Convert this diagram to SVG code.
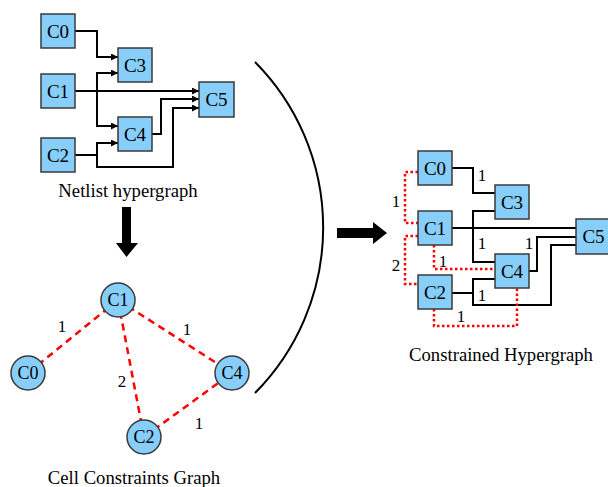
<svg xmlns="http://www.w3.org/2000/svg" width="608" height="487" viewBox="0 0 608 487">
<defs>
<style>
.box{fill:#87cefa;stroke:#3a3a3a;stroke-width:1.5}
.wire{fill:none;stroke:#000;stroke-width:2}
.awire{fill:none;stroke:#000;stroke-width:2;marker-end:url(#ah)}
.dot{fill:none;stroke:#ff0000;stroke-width:2.5;stroke-dasharray:2.5,2.5}
.dash{fill:none;stroke:#ff0000;stroke-width:2.5;stroke-dasharray:7,5}
</style>
<marker id="ah" viewBox="0 0 10 10" refX="10" refY="5" markerWidth="5" markerHeight="3.5" markerUnits="strokeWidth" orient="auto">
<path d="M0,0 L10,5 L0,10 z" fill="#000"/>
</marker>
</defs>

<!-- Netlist hypergraph connectors -->
<g id="netlist-connectors">
<path class="awire" d="M75,31 H97 V57 H118"/>
<path class="awire" d="M75,91 H199"/>
<path class="awire" d="M97,91 V73 H118"/>
<path class="awire" d="M97,91 V126 H118"/>
<path class="awire" d="M152,134 H161 V99 H199"/>
<path class="awire" d="M75,155 H97 V143 H118"/>
<path class="awire" d="M97,155 V167 H173 V108 H199"/>
</g>

<g id="n-C0"><rect class="box" x="41" y="14" width="34" height="34"/><text font-family="Liberation Serif" font-size="19" text-anchor="middle" x="58" y="38">C0</text></g>
<g id="n-C1"><rect class="box" x="41" y="74" width="34" height="34"/><text font-family="Liberation Serif" font-size="19" text-anchor="middle" x="58" y="98">C1</text></g>
<g id="n-C2"><rect class="box" x="41" y="138" width="34" height="34"/><text font-family="Liberation Serif" font-size="19" text-anchor="middle" x="58" y="162">C2</text></g>
<g id="n-C3"><rect class="box" x="118" y="48" width="34" height="34"/><text font-family="Liberation Serif" font-size="19" text-anchor="middle" x="135" y="72">C3</text></g>
<g id="n-C4"><rect class="box" x="118" y="117" width="34" height="34"/><text font-family="Liberation Serif" font-size="19" text-anchor="middle" x="135" y="141">C4</text></g>
<g id="n-C5"><rect class="box" x="199" y="82" width="35" height="35"/><text font-family="Liberation Serif" font-size="19" text-anchor="middle" x="216.5" y="106">C5</text></g>
<text font-family="Liberation Serif" font-size="18.7" text-anchor="middle" x="128" y="197">Netlist hypergraph</text>

<!-- big down arrow -->
<g id="down-arrow">
<path d="M122,207 H131 V243 H138 L126.5,257 L116,243 H122 z" fill="#000"/>
</g>

<!-- Cell constraints graph -->
<g id="ccg-connectors">
<line class="dash" x1="118" y1="300" x2="28" y2="373"/>
<line class="dash" x1="118" y1="300" x2="232" y2="373"/>
<line class="dash" x1="118" y1="300" x2="144" y2="437"/>
<line class="dash" x1="144" y1="437" x2="232" y2="373"/>
<text font-family="Liberation Serif" font-size="17" text-anchor="middle" x="62" y="332">1</text>
<text font-family="Liberation Serif" font-size="17" text-anchor="middle" x="187" y="335">1</text>
<text font-family="Liberation Serif" font-size="17" text-anchor="middle" x="122" y="387">2</text>
<text font-family="Liberation Serif" font-size="17" text-anchor="middle" x="199" y="429">1</text>
</g>
<g id="g-C1"><circle class="box" cx="118" cy="300" r="17"/><text font-family="Liberation Serif" font-size="18" text-anchor="middle" x="118" y="306">C1</text></g>
<g id="g-C0"><circle class="box" cx="28" cy="373" r="17"/><text font-family="Liberation Serif" font-size="18" text-anchor="middle" x="28" y="379">C0</text></g>
<g id="g-C4"><circle class="box" cx="232" cy="373" r="17"/><text font-family="Liberation Serif" font-size="18" text-anchor="middle" x="232" y="379">C4</text></g>
<g id="g-C2"><circle class="box" cx="144" cy="437" r="17"/><text font-family="Liberation Serif" font-size="18" text-anchor="middle" x="144" y="443">C2</text></g>
<text font-family="Liberation Serif" font-size="18.7" text-anchor="middle" x="134" y="484">Cell Constraints Graph</text>

<!-- arc -->
<path d="M255,62 A235,235 0 0 1 255,393" fill="none" stroke="#000" stroke-width="2"/>

<!-- right arrow -->
<g id="right-arrow">
<path d="M337,228 H373 V222 L387,233 L373,244 V238 H337 z" fill="#000"/>
</g>

<!-- Constrained hypergraph connectors -->
<g id="chg-connectors">
<path class="wire" d="M452,168 H473 V193 H495"/>
<path class="wire" d="M495,211 H473 V262 H495"/>
<path class="wire" d="M452,228 H576"/>
<path class="wire" d="M529,271 H537 V237 H576"/>
<path class="wire" d="M452,293 H473 V279 H495"/>
<path class="wire" d="M473,293 V305 H551 V245 H576"/>
<path class="dot" d="M418,172 H405 V223 H418"/>
<path class="dot" d="M418,236 H405 V284 H418"/>
<path class="dot" d="M434,245 V269 H495"/>
<path class="dot" d="M434,309 V326 H517 V288"/>
<text font-family="Liberation Serif" font-size="17" text-anchor="middle" x="482" y="181">1</text>
<text font-family="Liberation Serif" font-size="17" text-anchor="middle" x="482" y="249">1</text>
<text font-family="Liberation Serif" font-size="17" text-anchor="middle" x="529" y="249">1</text>
<text font-family="Liberation Serif" font-size="17" text-anchor="middle" x="482" y="301">1</text>
<text font-family="Liberation Serif" font-size="17" text-anchor="middle" x="396" y="207">1</text>
<text font-family="Liberation Serif" font-size="17" text-anchor="middle" x="396" y="271">2</text>
<text font-family="Liberation Serif" font-size="17" text-anchor="middle" x="443" y="267">1</text>
<text font-family="Liberation Serif" font-size="17" text-anchor="middle" x="461" y="322">1</text>
</g>
<g id="r-C0"><rect class="box" x="418" y="151" width="34" height="34"/><text font-family="Liberation Serif" font-size="19" text-anchor="middle" x="435" y="175">C0</text></g>
<g id="r-C1"><rect class="box" x="418" y="211" width="34" height="34"/><text font-family="Liberation Serif" font-size="19" text-anchor="middle" x="435" y="235">C1</text></g>
<g id="r-C2"><rect class="box" x="418" y="275" width="34" height="34"/><text font-family="Liberation Serif" font-size="19" text-anchor="middle" x="435" y="299">C2</text></g>
<g id="r-C3"><rect class="box" x="495" y="185" width="34" height="34"/><text font-family="Liberation Serif" font-size="19" text-anchor="middle" x="512" y="209">C3</text></g>
<g id="r-C4"><rect class="box" x="495" y="254" width="34" height="34"/><text font-family="Liberation Serif" font-size="19" text-anchor="middle" x="512" y="278">C4</text></g>
<g id="r-C5"><rect class="box" x="576" y="219" width="35" height="35"/><text font-family="Liberation Serif" font-size="19" text-anchor="middle" x="593.5" y="243">C5</text></g>
<text font-family="Liberation Serif" font-size="18.7" text-anchor="middle" x="501" y="361">Constrained Hypergraph</text>
</svg>
